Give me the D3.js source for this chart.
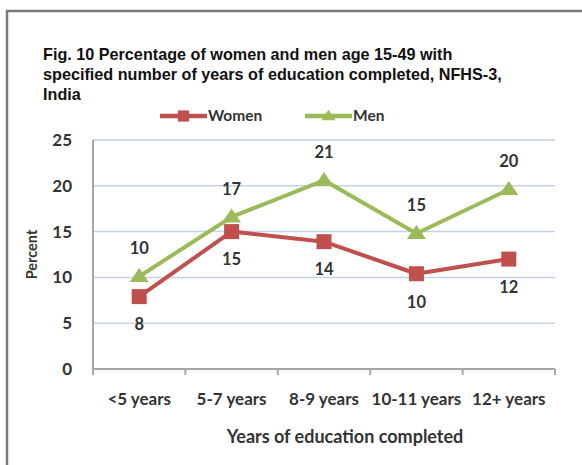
<!DOCTYPE html>
<html>
<head>
<meta charset="utf-8">
<script src="https://cdn.jsdelivr.net/npm/d3@7"></script>
<style>
  body { margin: 0; background: #fff; }
  svg { display: block; }
  text { font-family: Lato, "Open Sans", sans-serif; font-weight: bold; fill: #333; }
</style>
</head>
<body>
<svg id="chart" width="582" height="465"></svg>
<script>
// Share of women and men (15-49) by years of schooling, NFHS-3 India
const categories = ["<5 years", "5-7 years", "8-9 years", "10-11 years", "12+ years"];
const women = [7.9, 15.0, 13.9, 10.4, 12.0];
const men = [10.1, 16.6, 20.6, 14.8, 19.6];
const yTicks = [0, 5, 10, 15, 20, 25];
const titleLines = [
  "Fig. 10 Percentage of women and men age 15-49 with",
  "specified number of years of education completed, NFHS-3,",
  "India"
];
const seriesNames = ["Women", "Men"];
const xTitle = "Years of education completed";
const yTitle = "Percent";

const colors = { Women: "#c0504d", Men: "#9bbb59" };

const svg = d3.select("#chart");

// outer frame (left and top edges)
svg.append("path")
  .attr("d", "M7,465 V11 H582")
  .attr("fill", "none")
  .attr("stroke", "#7a7a7a")
  .attr("stroke-width", 2.5);

// title
const title = svg.append("text")
  .style("font-family", "'Liberation Sans', Arial, sans-serif")
  .style("font-size", "16.2px")
  .style("fill", "#111");
titleLines.forEach((t, i) => {
  title.append("tspan").attr("x", 43).attr("y", 60 + i * 20).text(t);
});

const x = d3.scaleBand().domain(categories).range([93, 555]);
const y = d3.scaleLinear().domain([0, 25]).range([369, 140]);

// horizontal gridlines
svg.append("g")
  .selectAll("line")
  .data(yTicks.filter(v => v > 0))
  .join("line")
  .attr("x1", x.range()[0])
  .attr("x2", x.range()[1])
  .attr("y1", d => y(d))
  .attr("y2", d => y(d))
  .attr("stroke", "#c3d3ea")
  .attr("stroke-width", 1.5);

// y axis
const yAxis = svg.append("g")
  .attr("transform", `translate(${x.range()[0]},0)`)
  .call(d3.axisLeft(y).tickValues(yTicks).tickSize(0).tickPadding(21));
yAxis.select(".domain").remove();
yAxis.selectAll("text").style("font-size", "17px").style("font-family", "Lato, sans-serif");
svg.append("line")
  .attr("x1", x.range()[0]).attr("x2", x.range()[0])
  .attr("y1", y(25)).attr("y2", y(0) + 5)
  .attr("stroke", "#a6a6a6").attr("stroke-width", 2);

// x axis
const xAxis = svg.append("g")
  .attr("transform", `translate(0,${y(0)})`)
  .call(d3.axisBottom(x).tickSize(0).tickPadding(24));
xAxis.select(".domain").remove();
xAxis.selectAll("text").style("font-size", "17px").style("font-family", "Lato, sans-serif");
svg.append("line")
  .attr("x1", x.range()[0]).attr("x2", x.range()[1])
  .attr("y1", y(0)).attr("y2", y(0))
  .attr("stroke", "#a6a6a6").attr("stroke-width", 2);
const boundaries = categories.map(c => x(c)).concat([x.range()[1]]);
svg.append("g")
  .selectAll("line")
  .data(boundaries)
  .join("line")
  .attr("x1", d => d).attr("x2", d => d)
  .attr("y1", y(0)).attr("y2", y(0) + 6)
  .attr("stroke", "#a6a6a6").attr("stroke-width", 2);

// axis titles
svg.append("text")
  .attr("x", 345).attr("y", 443)
  .attr("text-anchor", "middle")
  .style("font-size", "18px")
  .text(xTitle);
svg.append("text")
  .attr("transform", `translate(37,${(y(0) + y(25)) / 2}) rotate(-90)`)
  .attr("text-anchor", "middle")
  .style("font-size", "14.5px")
  .text(yTitle);

const cx = c => x(c) + x.bandwidth() / 2;
const line = d3.line().x(d => cx(d.cat)).y(d => y(d.v));
const series = [
  { name: "Women", values: women, labelDy: 28 },
  { name: "Men", values: men, labelDy: -28 }
];

function marker(sel, name, scale) {
  if (name === "Women") {
    const s = 15 * scale;
    sel.append("rect")
      .attr("x", -s / 2).attr("y", -s / 2)
      .attr("width", s).attr("height", s)
      .attr("fill", colors[name]);
  } else {
    const w = 19 * scale, h = 14 * scale;
    sel.append("path")
      .attr("d", `M0,${-h * 0.6} L${w / 2},${h * 0.4} L${-w / 2},${h * 0.4} Z`)
      .attr("fill", colors[name]);
  }
}

// draw men first so women sit on top where they meet
series.slice().reverse().forEach(s => {
  const pts = s.values.map((v, i) => ({ cat: categories[i], v }));
  svg.append("path")
    .datum(pts)
    .attr("d", line)
    .attr("fill", "none")
    .attr("stroke", colors[s.name])
    .attr("stroke-width", 4)
    .attr("stroke-linejoin", "round");
  pts.forEach(p => {
    const g = svg.append("g").attr("transform", `translate(${cx(p.cat)},${y(p.v)})`);
    marker(g, s.name, 1);
  });
});

// data labels
series.forEach(s => {
  svg.append("g")
    .selectAll("text")
    .data(s.values.map((v, i) => ({ cat: categories[i], v })))
    .join("text")
    .attr("x", d => cx(d.cat))
    .attr("y", d => y(d.v) + s.labelDy)
    .attr("dy", "0.35em")
    .attr("text-anchor", "middle")
    .style("font-size", "16.5px")
    .text(d => d3.format(".0f")(d.v));
});

// legend
const legend = [
  { name: "Women", x0: 160 },
  { name: "Men", x0: 305 }
];
legend.forEach(l => {
  const g = svg.append("g").attr("transform", `translate(${l.x0},116)`);
  g.append("line")
    .attr("x1", 0).attr("x2", 47)
    .attr("stroke", colors[l.name]).attr("stroke-width", 4.5);
  const m = g.append("g").attr("transform", "translate(23.5,0)");
  marker(m, l.name, 0.75);
  g.append("text")
    .attr("x", 48).attr("dy", "0.35em")
    .style("font-size", "15.5px")
    .text(l.name);
});
</script>
</body>
</html>
